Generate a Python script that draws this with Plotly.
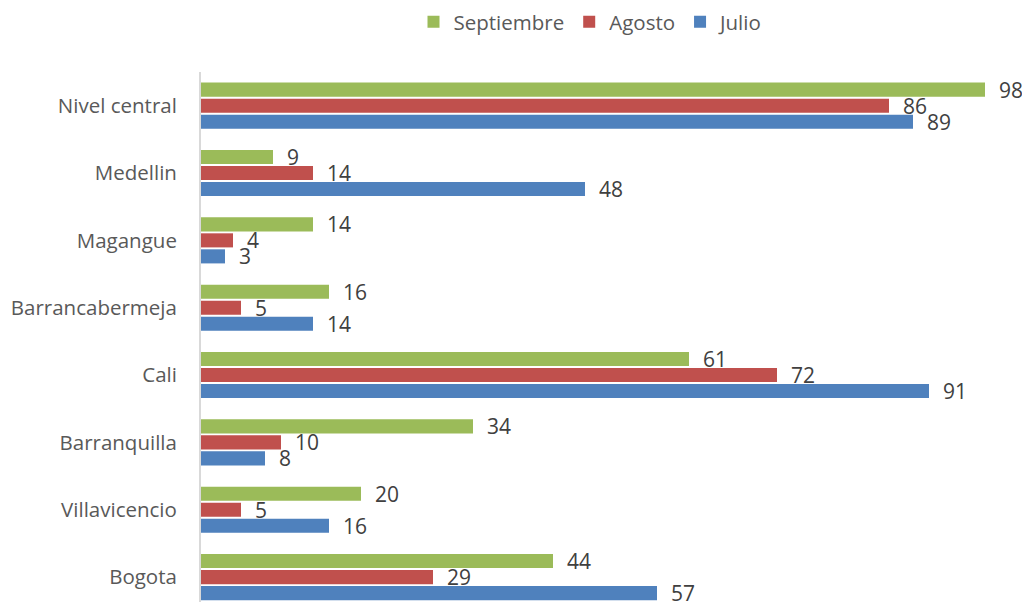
import plotly.graph_objects as go

categories = ["Nivel central", "Medellin", "Magangue", "Barrancabermeja",
              "Cali", "Barranquilla", "Villavicencio", "Bogota"]
septiembre = [98, 9, 14, 16, 61, 34, 20, 44]
agosto = [86, 14, 4, 5, 72, 10, 5, 29]
julio = [89, 48, 3, 14, 91, 8, 16, 57]

series = [
    ("Julio", julio, "#4F81BD"),
    ("Agosto", agosto, "#C0504D"),
    ("Septiembre", septiembre, "#9BBB59"),
]

FONT = "Open Sans"
TXT = "#595959"

# page body has an 8px default margin; compensate so the plot lands where it should
OFF = 8
W, H = 1030 - OFF, 602 - OFF

fig = go.Figure()
for name, vals, color in series:
    fig.add_trace(go.Bar(
        y=categories, x=vals, name=name, orientation="h",
        marker=dict(color=color, line=dict(width=0)),
        text=vals, texttemplate="\u00a0\u00a0%{x}",
        textposition="outside", cliponaxis=False, constraintext="none",
        outsidetextfont=dict(family=FONT, size=21, color="#404040"),
    ))

fig.update_layout(
    width=W, height=H,
    margin=dict(l=201 - OFF, r=29, t=72 - OFF, b=0),
    paper_bgcolor="white", plot_bgcolor="white",
    barmode="group", bargap=0.287, bargroupgap=0.12,
    font=dict(family=FONT, size=20, color=TXT),
    legend=dict(orientation="h", traceorder="reversed",
                xref="container", yref="container",
                x=(591 - OFF) / W, xanchor="center",
                y=1 - (22 - OFF) / H, yanchor="middle",
                font=dict(family=FONT, size=20.5, color=TXT),
                itemwidth=30),
    xaxis=dict(range=[0, 100], visible=False, showgrid=False, zeroline=False),
    yaxis=dict(categoryorder="array", categoryarray=categories[::-1],
               range=[-0.37, 7.5], showline=True, linecolor="#D9D9D9",
               linewidth=2, ticks="", ticklabelstandoff=18,
               showgrid=False, zeroline=False,
               tickfont=dict(family=FONT, size=20.5, color=TXT)),
)

fig.write_html("out.html")
